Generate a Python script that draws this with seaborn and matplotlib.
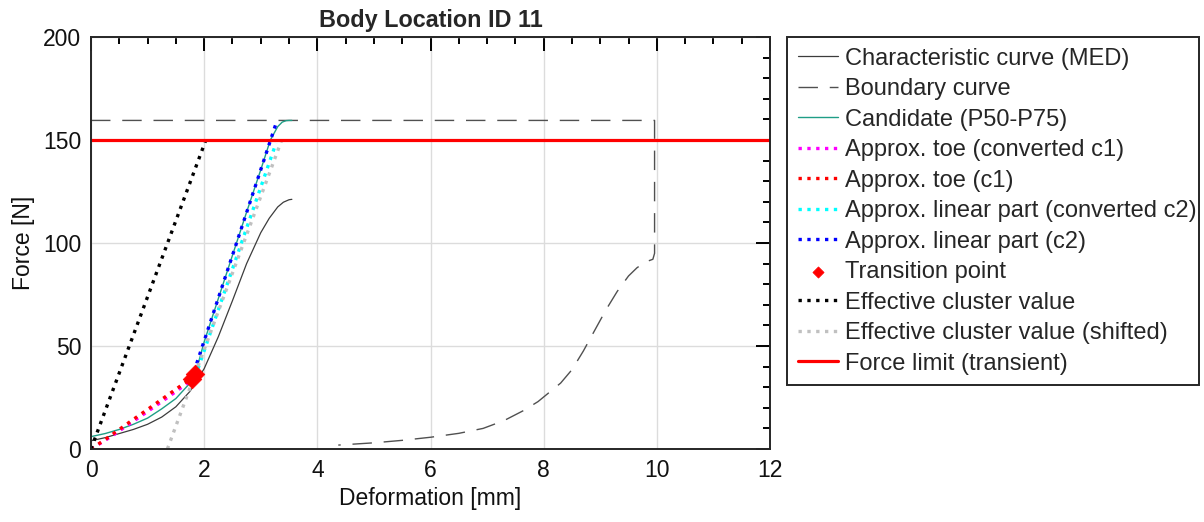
import numpy as np
import pandas as pd
import matplotlib
matplotlib.use("Agg")
import matplotlib.pyplot as plt
import seaborn as sns

# ---------------- data ----------------
med_x = [0, 0.25, 0.5, 0.75, 1.0, 1.25, 1.5, 1.75, 2.0, 2.25, 2.5, 2.75, 3.0, 3.15, 3.3, 3.4, 3.5, 3.55]
med_y = [4, 5.5, 7.5, 9.5, 12, 15.5, 20.5, 28, 39, 54.5, 72, 90, 105, 112, 117.5, 119.8, 121, 121.2]

bnd_x = [0, 9.96, 9.96, 9.93, 9.8, 9.65, 9.5, 9.3, 9.1, 8.9, 8.7, 8.5, 8.3, 8.1, 7.9, 7.64,
         7.3, 6.93, 6.5, 6.0, 5.5, 5.0, 4.37]
bnd_y = [159.5, 159.5, 95, 92.1, 90.8, 88, 84, 76.5, 67.5, 57.5, 47.5, 38.5, 32, 27.5, 23, 18.6,
         13.8, 10, 7.6, 5.7, 4.2, 3.0, 1.9]

cand_x = [0, 0.25, 0.5, 0.75, 1.0, 1.25, 1.5, 1.75, 1.9, 2.0, 2.25, 2.5, 2.75, 3.0, 3.17, 3.3, 3.38, 3.45, 3.5, 3.55]
cand_y = [6, 7.5, 9.5, 12, 15, 19.5, 24.5, 32, 42, 52, 73, 94, 115, 135.5, 150, 156.5, 158.7, 159.4, 159.5, 159.5]

toe_conv_x = [0, 0.25, 0.5, 0.75, 1.0, 1.25, 1.5, 1.75, 1.82]
toe_conv_y = [0, 4.2, 8.8, 13.5, 18.2, 23.0, 27.9, 32.9, 34.5]

toe_c1_x = [0, 0.25, 0.5, 0.75, 1.0, 1.25, 1.5, 1.75, 1.82]
toe_c1_y = [0, 4.6, 9.5, 14.4, 19.2, 24.1, 29.0, 33.9, 35.3]

lin_conv_x = [1.84, 3.27]
lin_conv_y = [35, 148.5]

lin_c2_x = [1.82, 3.27]
lin_c2_y = [37.5, 158]

trans_x = [1.78, 1.83]
trans_y = [34.0, 36.5]

eff_x = [0, 2.03]
eff_y = [0, 150]

eff_shift_x = [1.35, 3.37]
eff_shift_y = [0, 150]

limit_x = [0, 12]
limit_y = [150, 150]

x_ticks = [0, 2, 4, 6, 8, 10, 12]
y_ticks = [0, 50, 100, 150, 200]

labels = ["Characteristic curve (MED)", "Boundary curve", "Candidate (P50-P75)",
          "Approx. toe (converted c1)", "Approx. toe (c1)",
          "Approx. linear part (converted c2)", "Approx. linear part (c2)",
          "Transition point", "Effective cluster value",
          "Effective cluster value (shifted)", "Force limit (transient)"]

# ---------------- style ----------------
sns.set_theme(style="white")
plt.rcParams['font.family'] = ['Liberation Sans', 'DejaVu Sans']
FS = 16.5

fig = plt.figure(figsize=(12.04, 5.22), dpi=100)
ax = fig.add_axes([91/1204, 1 - 449/522, (770 - 91)/1204, (449 - 37)/522])

def line(x, y, label, **kw):
    sns.lineplot(x=x, y=y, ax=ax, sort=False, estimator=None, label=label, **kw)

line(med_x, med_y, labels[0], color="#3c3c3c", linewidth=0.9)
line(bnd_x, bnd_y, labels[1], color="#505050", linewidth=1.0, linestyle=(0, (14, 8.5)))
line(cand_x, cand_y, labels[2], color="#1f9e86", linewidth=1.0)
line(toe_conv_x, toe_conv_y, labels[3], color="#ff00ff", linewidth=2.4, linestyle=":")
line(toe_c1_x, toe_c1_y, labels[4], color="#ff0000", linewidth=2.4, linestyle=":")
line(lin_conv_x, lin_conv_y, labels[5], color="#00ffff", linewidth=2.4, linestyle=":")
line(lin_c2_x, lin_c2_y, labels[6], color="#0000ff", linewidth=2.4, linestyle=":")
sns.scatterplot(x=trans_x, y=trans_y, ax=ax, marker="D", s=90, color="#ff0000",
                edgecolor="#ff0000", linewidth=0.5, label=labels[7], zorder=5)
line(eff_x, eff_y, labels[8], color="#000000", linewidth=2.4, linestyle=":")
line(eff_shift_x, eff_shift_y, labels[9], color="#c0c0c0", linewidth=2.4, linestyle=":")
line(limit_x, limit_y, labels[10], color="#ff0000", linewidth=2.3)

ax.set_xlim(0, 12)
ax.set_ylim(0, 200)
ax.set_xticks(x_ticks)
ax.set_yticks(y_ticks)
ax.set_xticks(np.arange(0, 12.01, 0.5), minor=True)
ax.set_yticks(np.arange(0, 200.1, 10), minor=True)
ax.tick_params(which="both", direction="in", top=True, right=True, color="#000000",
               labelsize=FS, labelcolor="#111111")
ax.tick_params(which="major", length=10, width=1.4, pad=7)
ax.tick_params(which="minor", length=5, width=1.4)
ax.grid(True, which="major", color="#dcdcdc", linewidth=1.0)
for s in ax.spines.values():
    s.set_color("#262626")
    s.set_linewidth(1.4)

ax.set_xlabel("Deformation [mm]", fontsize=FS, color="#111111", labelpad=4)
ax.set_ylabel("Force [N]", fontsize=FS, color="#111111", labelpad=6)
ax.set_title("Body Location ID 11", fontsize=FS + 0.3, fontweight="bold", pad=7)

leg = ax.legend(loc="upper left",
                bbox_to_anchor=(787/1204, 0.0, (1199 - 787)/1204, 1 - 37/522),
                bbox_transform=fig.transFigure, mode="expand",
                fontsize=17, frameon=True, fancybox=False, framealpha=1,
                handlelength=1.7, handletextpad=0.3, labelspacing=0.36,
                borderpad=0.45, borderaxespad=0, markerscale=0.6)
leg.get_frame().set_edgecolor("#262626")
leg.get_frame().set_linewidth(1.4)

fig.savefig("out.png", dpi=100, facecolor="white")
